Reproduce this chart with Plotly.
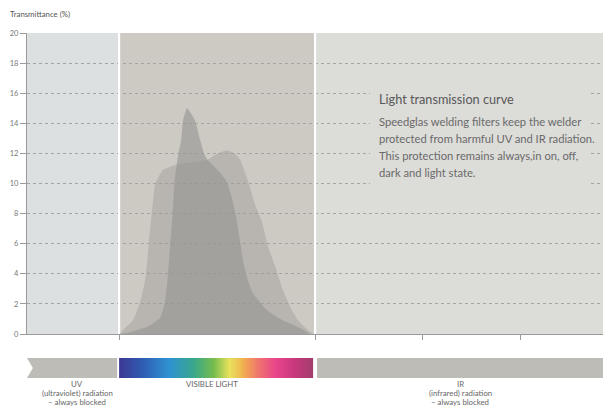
import plotly.graph_objects as go

# ---------------- data ----------------
# wavelength (nm) and transmittance (%) of the two curves
peak_wl = [401, 414, 444, 463, 470, 474, 478, 482, 485, 488, 490, 495, 498, 504,
           516, 524, 530, 535, 542, 555, 565, 573, 579, 585, 591, 597, 605, 626, 651, 677, 692]
peak_tr = [0, 0.1, 0.5, 1.1, 2.1, 3.6, 5.8, 8.0, 10.2, 11.2, 11.8, 12.9, 14.2, 15.0,
           14.2, 12.9, 12.0, 11.6, 11.3, 10.7, 10.1, 9.0, 7.8, 6.2, 4.6, 3.6, 2.7, 1.6, 0.9, 0.4, 0]

broad_wl = [401, 409, 421, 432, 440, 445, 450, 455, 460, 467, 483, 509, 536, 551,
            565, 577, 585, 593, 600, 608, 619, 628, 639, 649, 662, 674, 688, 697]
broad_tr = [0, 0.4, 0.9, 2.1, 3.6, 5.8, 8.0, 9.9, 10.4, 10.9, 11.2, 11.4, 11.6, 12.0,
            12.2, 12.0, 11.6, 10.7, 9.8, 8.6, 7.4, 5.8, 4.5, 3.1, 1.8, 0.9, 0.3, 0]

y_ticks = [0, 2, 4, 6, 8, 10, 12, 14, 16, 18, 20]
x_ticks = [400, 700, 864, 1014]
region_edges = [259, 400, 700, 1153]   # UV | visible | IR

visible_wl = list(range(400, 698, 3))  # band for the visible spectrum strip
spectrum_stops = [(0.0, "#3b3b95"), (0.12, "#2f5fb5"), (0.25, "#2f93d2"),
                  (0.38, "#3aa88a"), (0.48, "#76bd4e"), (0.56, "#e8e25c"),
                  (0.63, "#f2b24e"), (0.72, "#ee6f72"), (0.80, "#e9448c"),
                  (0.90, "#c8387c"), (1.0, "#9e3f6c")]

title_text = "Light transmission curve"
body_lines = ["Speedglas welding filters keep the welder",
              "protected from harmful UV and IR radiation.",
              "This protection remains always,in on, off,",
              "dark and light state."]

# ---------------- layout helpers ----------------
# the page adds an 8 px body margin, so the figure is placed at (8, 8)
OFF = 8
PAGE_W, PAGE_H = 611, 408
W, H = PAGE_W - OFF, PAGE_H - OFF
ML, MR, MT, MB = 27 - OFF, 0, 33 - OFF, 0
PW, PH = W - ML - MR, H - MT - MB


def fx(px):
    return (px - 27) / PW


def fy(py):
    return (PAGE_H - py) / PH


FONT = "Lato"
IR_BG = "#dcdcd9"
fig = go.Figure()

# curves
fig.add_trace(go.Scatter(x=peak_wl, y=peak_tr, mode="lines", line=dict(width=0, shape="spline", smoothing=0.5),
                         fill="tozeroy", fillcolor="rgba(150,150,147,0.62)", hoverinfo="skip", showlegend=False))
fig.add_trace(go.Scatter(x=broad_wl, y=broad_tr, mode="lines", line=dict(width=0, shape="spline", smoothing=0.5),
                         fill="tozeroy", fillcolor="rgba(150,150,147,0.38)", hoverinfo="skip", showlegend=False))

# visible spectrum strip
edges = visible_wl + [697]
fig.add_trace(go.Heatmap(x=edges, y=[0, 1], z=[[w for w in visible_wl]], xaxis="x", yaxis="y2",
                         colorscale=[[s, c] for s, c in spectrum_stops], showscale=False,
                         hoverinfo="skip", zsmooth="best"))

shapes = []
bg_cols = ["#dde0e1", "#cdc9c3", IR_BG]
for i, c in enumerate(bg_cols):
    shapes.append(dict(type="rect", xref="x", yref="y", x0=region_edges[i], x1=region_edges[i + 1],
                       y0=0, y1=20, fillcolor=c, line=dict(width=0), layer="below"))
# background panel behind the text block (hides gridlines there)
shapes.append(dict(type="rect", xref="paper", yref="paper", x0=fx(370), x1=fx(590),
                   y0=fy(190), y1=fy(86), fillcolor=IR_BG, line=dict(width=0), layer="above"))
for xv in region_edges[1:3]:
    shapes.append(dict(type="line", xref="x", yref="y", x0=xv, x1=xv, y0=0, y1=20,
                       line=dict(color="white", width=2.2), layer="above"))
# UV bar with notch, IR bar
shapes.append(dict(type="path", xref="x", yref="y2",
                   path="M 259 1 L 397 1 L 397 0 L 259 0 L 268 0.5 Z",
                   fillcolor="#bebcb7", line=dict(width=0)))
shapes.append(dict(type="path", xref="x", yref="y2",
                   path="M 703 1 L 1140 1 Q 1149 1 1149 0.7 L 1149 0.3 Q 1149 0 1140 0 L 703 0 Z",
                   fillcolor="#bebcb7", line=dict(width=0)))

ann = []
ann.append(dict(text="Transmittance (%)", xref="paper", yref="paper", x=fx(8), y=fy(14),
                xanchor="left", yanchor="middle", showarrow=False,
                font=dict(family=FONT, size=7.8, color="#555")))
ann.append(dict(text=title_text, xref="paper", yref="paper", x=fx(377), y=fy(99),
                xanchor="left", yanchor="middle", showarrow=False,
                font=dict(family=FONT, size=12.7, color="#585858")))
for i, line in enumerate(body_lines):
    ann.append(dict(text=line, xref="paper", yref="paper", x=fx(377), y=fy(121 + i * 17.3),
                    xanchor="left", yanchor="middle", showarrow=False,
                    font=dict(family=FONT, size=11.2, color="#6a6a6a")))
bottom = [(77, ["UV", "(ultraviolet) radiation", "– always blocked"]),
          (212, ["VISIBLE LIGHT"]),
          (460, ["IR", "(infrared) radiation", "– always blocked"])]
for cx, lines in bottom:
    for i, line in enumerate(lines):
        ann.append(dict(text=line, xref="paper", yref="paper", x=fx(cx), y=fy(384 + i * 9),
                        xanchor="center", yanchor="middle", showarrow=False,
                        font=dict(family=FONT, size=7.8, color="#666")))

fig.update_layout(
    width=W, height=H, margin=dict(l=ML, r=MR, t=MT, b=MB, autoexpand=False),
    paper_bgcolor="white", plot_bgcolor="white",
    xaxis=dict(range=[region_edges[0], region_edges[-1]], tickvals=x_ticks, showticklabels=False,
               ticks="outside", ticklen=5, tickcolor="#9a9a9a", showgrid=False, zeroline=False,
               showline=True, linecolor="#9a9a9a", linewidth=1.2, anchor="y", fixedrange=True,
               automargin=False),
    yaxis=dict(range=[0, 20], domain=[fy(334), 1], tickvals=y_ticks, ticks="outside", ticklen=6,
               tickcolor="#9a9a9a", tickfont=dict(family=FONT, size=7.5, color="#777"),
               showgrid=True, gridcolor="#a4a4a4", griddash="dot", gridwidth=0.8,
               zeroline=False, showline=True, linecolor="#9a9a9a", linewidth=1.2, fixedrange=True,
               automargin=False),
    yaxis2=dict(range=[0, 1], domain=[fy(378), fy(358)], visible=False, anchor="x", fixedrange=True),
    shapes=shapes, annotations=ann, showlegend=False,
)
fig.write_html("out.html")
